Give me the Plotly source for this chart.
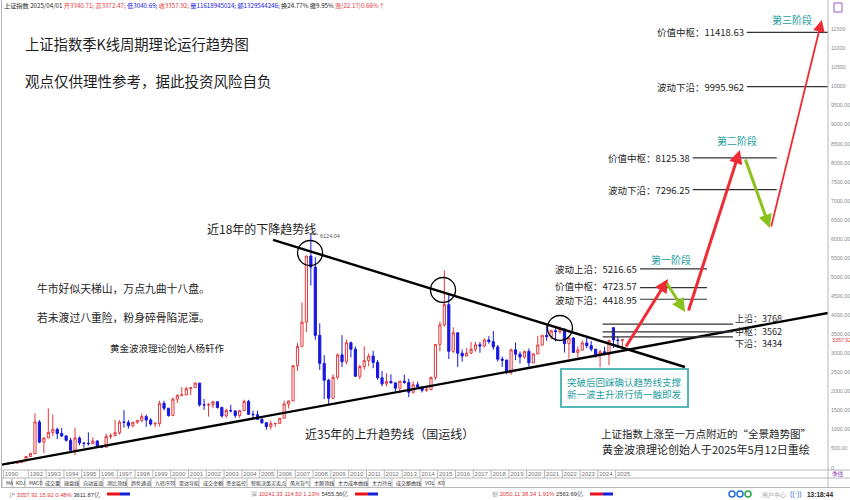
import plotly.graph_objects as go

# ---------------- Quarterly K-line data: Shanghai Composite Index ----------------
first_year, first_quarter = 1990, 4

opens = [
    96.05,
    127.61, 120.19, 137.56, 180.92,
    292.75, 370.0, 1200.0, 670.0,
    780.39, 925.0, 1007.0, 900.0,
    833.8, 720.0, 460.0, 780.0,
    647.87, 640.0, 630.0, 700.0,
    555.29, 540.0, 820.0, 840.0,
    917.02, 1200.0, 1190.0, 1100.0,
    1194.1, 1240.0, 1340.0, 1250.0,
    1146.7, 1160.0, 1690.0, 1560.0,
    1366.6, 1800.0, 1900.0, 1910.0,
    2073.5, 2100.0, 2218.0, 1650.0,
    1646.0, 1650.0, 1730.0, 1580.0,
    1357.7, 1500.0, 1490.0, 1370.0,
    1497.0, 1740.0, 1400.0, 1390.0,
    1266.5, 1180.0, 1080.0, 1155.0,
    1161.06, 1298.0, 1672.0, 1752.0,
    2675.47, 3183.0, 3820.0, 5552.0,
    5261.56, 3472.0, 2736.0, 2293.0,
    1820.81, 2373.0, 2959.0, 2779.0,
    3277.0, 3109.0, 2398.0, 2655.0,
    2808.0, 2928.0, 2762.0, 2359.0,
    2199.0, 2262.0, 2225.0, 2086.0,
    2269.0, 2237.0, 1979.0, 2175.0,
    2116.0, 2033.0, 2048.0, 2364.0,
    3235.0, 3748.0, 4277.0, 3053.0,
    3539.0, 3004.0, 2930.0, 3005.0,
    3104.0, 3223.0, 3192.0, 3349.0,
    3307.0, 3169.0, 2847.0, 2821.0,
    2494.0, 3091.0, 2979.0, 2905.0,
    3050.0, 2750.0, 2985.0, 3218.0,
    3473.0, 3441.0, 3591.0, 3568.0,
    3640.0, 3252.0, 3399.0, 3024.0,
    3089.0, 3273.0, 3202.0, 3110.0,
    2975.0, 3041.0, 2967.0, 3674.0,
    3347.0, 3340.71,
]
highs = [
    127.61,
    134.87, 137.56, 180.92, 292.75,
    390.0, 1429.01, 1250.0, 800.0,
    1558.95, 1392.0, 1050.0, 1044.0,
    850.0, 780.0, 1052.94, 820.0,
    660.0, 926.41, 800.0, 720.0,
    560.0, 900.0, 900.0, 1258.69,
    1250.0, 1510.18, 1250.0, 1200.0,
    1250.0, 1420.0, 1390.0, 1300.0,
    1200.0, 1756.18, 1756.0, 1560.0,
    1840.0, 1920.0, 2114.0, 2125.0,
    2114.0, 2245.44, 2230.0, 1800.0,
    1700.0, 1748.0, 1740.0, 1600.0,
    1550.0, 1649.0, 1500.0, 1500.0,
    1783.0, 1780.0, 1500.0, 1496.0,
    1328.0, 1200.0, 1230.0, 1180.0,
    1300.0, 1757.0, 1758.0, 2698.0,
    3274.0, 4335.0, 5555.0, 6124.04,
    5522.0, 3786.0, 2952.0, 2333.0,
    2450.0, 2999.0, 3478.01, 3361.0,
    3306.0, 3181.0, 2700.0, 3186.0,
    3001.0, 3067.0, 2827.0, 2536.0,
    2478.0, 2453.0, 2243.0, 2276.0,
    2444.0, 2334.0, 2270.0, 2260.0,
    2139.0, 2146.0, 2391.0, 3239.0,
    3835.0, 5178.19, 4572.0, 3684.0,
    3539.0, 3100.0, 3140.0, 3301.0,
    3301.0, 3296.0, 3392.0, 3450.0,
    3587.0, 3220.0, 2915.0, 2838.0,
    3129.0, 3288.0, 3047.0, 3069.0,
    3127.0, 3000.0, 3458.0, 3474.0,
    3731.0, 3624.0, 3723.0, 3708.0,
    3651.0, 3425.0, 3424.0, 3181.0,
    3340.0, 3419.0, 3322.0, 3110.0,
    3091.0, 3174.0, 3358.0, 3674.0,
    3439.0, 3372.47,
]
lows = [
    95.79,
    105.77, 104.96, 130.0, 180.92,
    292.0, 370.0, 640.0, 386.85,
    780.0, 830.0, 750.0, 800.0,
    680.0, 450.0, 325.89, 590.0,
    524.43, 580.0, 620.0, 555.29,
    512.83, 530.0, 750.0, 840.0,
    870.0, 1050.0, 1025.0, 1060.0,
    1150.0, 1200.0, 1070.0, 1100.0,
    1064.0, 1080.0, 1500.0, 1341.0,
    1361.0, 1700.0, 1870.0, 1900.0,
    1900.0, 2100.0, 1600.0, 1514.86,
    1339.0, 1560.0, 1550.0, 1311.0,
    1311.0, 1450.0, 1307.0, 1307.0,
    1490.0, 1390.0, 1300.0, 1259.0,
    1150.0, 998.23, 1000.0, 1067.0,
    1161.0, 1290.0, 1550.0, 1740.0,
    2541.0, 3180.0, 3560.0, 4778.0,
    3357.0, 2566.0, 1802.0, 1664.93,
    1814.0, 2320.0, 2639.0, 2712.0,
    2890.0, 2382.0, 2319.0, 2574.0,
    2661.0, 2610.0, 2307.0, 2134.0,
    2132.0, 2211.0, 2001.0, 1949.0,
    2201.0, 1849.0, 1940.0, 2101.0,
    1974.0, 1991.0, 2043.0, 2302.0,
    3049.0, 3700.0, 2850.0, 3011.0,
    2638.0, 2781.0, 2918.0, 2981.0,
    3044.0, 3016.0, 3161.0, 3254.0,
    3091.0, 2782.0, 2644.0, 2449.0,
    2440.0, 2824.0, 2733.0, 2858.0,
    2646.0, 2743.0, 2979.0, 3202.0,
    3328.0, 3367.0, 3312.0, 3516.0,
    3023.0, 2863.0, 3021.0, 2885.0,
    3063.0, 3132.0, 3053.0, 2882.0,
    2635.0, 2952.0, 2689.0, 3140.0,
    3140.0, 3040.69,
]
closes = [
    127.61,
    120.19, 137.56, 180.92, 292.75,
    370.0, 1200.0, 670.0, 780.39,
    925.0, 1007.0, 900.0, 833.8,
    720.0, 460.0, 780.0, 647.87,
    640.0, 630.0, 700.0, 555.29,
    540.0, 820.0, 840.0, 917.02,
    1200.0, 1190.0, 1100.0, 1194.1,
    1240.0, 1340.0, 1250.0, 1146.7,
    1160.0, 1690.0, 1560.0, 1366.6,
    1800.0, 1900.0, 1910.0, 2073.5,
    2100.0, 2218.0, 1650.0, 1646.0,
    1650.0, 1730.0, 1580.0, 1357.7,
    1500.0, 1490.0, 1370.0, 1497.0,
    1740.0, 1400.0, 1390.0, 1266.5,
    1180.0, 1080.0, 1155.0, 1161.06,
    1298.0, 1672.0, 1752.0, 2675.47,
    3183.0, 3820.0, 5552.0, 5261.56,
    3472.0, 2736.0, 2293.0, 1820.81,
    2373.0, 2959.0, 2779.0, 3277.0,
    3109.0, 2398.0, 2655.0, 2808.0,
    2928.0, 2762.0, 2359.0, 2199.0,
    2262.0, 2225.0, 2086.0, 2269.0,
    2237.0, 1979.0, 2175.0, 2116.0,
    2033.0, 2048.0, 2364.0, 3235.0,
    3748.0, 4277.0, 3053.0, 3539.0,
    3004.0, 2930.0, 3005.0, 3104.0,
    3223.0, 3192.0, 3349.0, 3307.0,
    3169.0, 2847.0, 2821.0, 2494.0,
    3091.0, 2979.0, 2905.0, 3050.0,
    2750.0, 2985.0, 3218.0, 3473.0,
    3441.0, 3591.0, 3568.0, 3640.0,
    3252.0, 3399.0, 3024.0, 3089.0,
    3273.0, 3202.0, 3110.0, 2975.0,
    3041.0, 2967.0, 3336.0, 3352.0,
    3336.0, 3357.92,
]

# x-axis year labels
tick_years = [1990.6] + list(range(1992, 2026))
tick_labels = ["1990"] + [str(y) for y in range(1992, 2026)]

# right axis ticks
y_ticks = list(range(0, 12000, 500))
last_close = 3357.92
peak_value = 6124.04
peak_year = 2007.875

# trend lines (year, index level)
up_trend_years = [1990.41, 2036.93]
up_trend_values = [71, 4058]
down_trend_years = [2005.75, 2028.89]
down_trend_values = [5976, 2642]

# circled touch points on the falling trend line
circle_years = [2007.83, 2015.30, 2021.87]
circle_values = [5632, 4662, 3665]

# projected target levels: name, value, start year, end year
level_names = ["波动上沿", "价值中枢", "波动下沿",
               "价值中枢", "波动下沿",
               "价值中枢", "波动下沿"]
level_values = [5216.65, 4723.57, 4418.95, 8125.38, 7296.25, 11418.63, 9995.962]
level_start = [2026.37, 2026.37, 2026.37, 2029.33, 2029.33, 2032.37, 2032.37]
level_end = [2030.13, 2030.13, 2030.13, 2034.05, 2034.05, 2037.5, 2037.5]

# current consolidation band
band_names = ["上沿", "中枢", "下沿"]
band_values = [3768, 3562, 3434]
band_start, band_end = 2024.27, 2031.59

# projected wave path: tails and heads of each arrow
wave_tail_years = [2025.53, 2027.83, 2029.07, 2032.26, 2033.72]
wave_tail_values = [3140, 4871, 4085, 8124, 6288]
wave_head_years = [2027.94, 2028.90, 2031.98, 2033.66, 2036.58]
wave_head_values = [4950, 4085, 8334, 6288, 11744]
wave_kinds = ["up", "down", "up", "down", "up_thin"]

stage_names = ["第一阶段", "第二阶段", "第三阶段"]
stage_years = [2028.11, 2031.81, 2034.89]
stage_values = [5449, 8596, 11765]

# ---------------- styling ----------------
RED = "#e4393c"
BLUE = "#1717e0"
TEAL = "#1f9e9e"
GREEN = "#8cc21c"
ARROW_RED = "#ef2b36"
INK = "#1e1e1e"
CJK = "Noto Sans CJK SC"
NUM = "Liberation Sans"

W, H = 850, 500
PL, PR, PT, PB = 2, 828, 11, 470


def px(x):
    return (x - PL) / (PR - PL)


def py(y):
    return (PB - y) / (PB - PT)


# x position of every quarterly bar
bar_x = []
yr, qt = first_year, first_quarter
for _ in opens:
    bar_x.append(yr + (qt - 1) / 4 + 0.125)
    qt += 1
    if qt > 4:
        qt, yr = 1, yr + 1

fig = go.Figure()

fig.add_trace(go.Candlestick(
    x=bar_x, open=opens, high=highs, low=lows, close=closes,
    increasing=dict(line=dict(color=RED, width=1), fillcolor="#ffffff"),
    decreasing=dict(line=dict(color=BLUE, width=1), fillcolor=BLUE),
    whiskerwidth=0, showlegend=False, hoverinfo="skip",
))

# trend lines
fig.add_trace(go.Scatter(x=up_trend_years, y=up_trend_values, mode="lines",
                         line=dict(color="#000000", width=2.4), showlegend=False,
                         hoverinfo="skip"))
fig.add_trace(go.Scatter(x=down_trend_years, y=down_trend_values, mode="lines",
                         line=dict(color="#000000", width=2.4), showlegend=False,
                         hoverinfo="skip"))

# target level lines
for v, x0, x1 in zip(level_values, level_start, level_end):
    fig.add_trace(go.Scatter(x=[x0, x1], y=[v, v], mode="lines",
                             line=dict(color="#333333", width=1.2),
                             showlegend=False, hoverinfo="skip"))
for v in band_values:
    fig.add_trace(go.Scatter(x=[band_start, band_end], y=[v, v], mode="lines",
                             line=dict(color="#333333", width=1.2),
                             showlegend=False, hoverinfo="skip"))

annotations = []
shapes = []

# level labels
level_shift = [0, 2, -1, 0, 0, 0, 0]
for name, v, x0, s in zip(level_names, level_values, level_start, level_shift):
    annotations.append(dict(x=x0, y=v, xref="x", yref="y", xanchor="right",
                            yanchor="middle", showarrow=False, xshift=-1, yshift=s,
                            text=f"{name}：{v}",
                            font=dict(family=CJK, size=9.5, color=INK)))
band_shift = [6, 0, -7]
for name, v, s in zip(band_names, band_values, band_shift):
    annotations.append(dict(x=band_end, y=v, xref="x", yref="y", xanchor="left",
                            yanchor="middle", showarrow=False, xshift=0, yshift=s,
                            text=f"{name}：{v}",
                            font=dict(family=CJK, size=9, color=INK)))

# stage labels
for name, x, v in zip(stage_names, stage_years, stage_values):
    annotations.append(dict(x=x, y=v, xref="x", yref="y", showarrow=False,
                            text=name, font=dict(family=CJK, size=10, color=TEAL)))

# projected wave arrows
for tx, tv, hx, hv, kind in zip(wave_tail_years, wave_tail_values,
                                wave_head_years, wave_head_values, wave_kinds):
    color = GREEN if kind == "down" else ARROW_RED
    width = 1.8 if kind == "up_thin" else 3
    annotations.append(dict(x=hx, y=hv, ax=tx, ay=tv, xref="x", yref="y",
                            axref="x", ayref="y", text="", showarrow=True,
                            arrowhead=2, arrowsize=0.9 if width > 2 else 1.3,
                            arrowwidth=width, arrowcolor=color, standoff=0))

# touch-point circles
for cx, cv in zip(circle_years, circle_values):
    shapes.append(dict(type="circle", xref="x", yref="y", xsizemode="pixel",
                       ysizemode="pixel", xanchor=cx, yanchor=cv,
                       x0=-12.5, x1=12.5, y0=-12.5, y1=12.5,
                       line=dict(color="#000000", width=1.3)))

# peak marker
shapes.append(dict(type="line", xref="x", yref="y", x0=peak_year, x1=peak_year + 0.4,
                   y0=peak_value, y1=peak_value, line=dict(color="#666666", width=0.8)))
annotations.append(dict(x=peak_year, y=peak_value, xref="x", yref="y",
                        xanchor="left", yanchor="middle", showarrow=False,
                        xshift=7, yshift=-2, text=f"{peak_value:.2f}",
                        font=dict(family=NUM, size=5.5, color="#555555")))

# callout box
annotations.append(dict(x=2025.47, y=2088, xref="x", yref="y", showarrow=False,
                        text="突破后回踩确认趋势线支撑<br>新一波主升浪行情一触即发",
                        font=dict(family=CJK, size=9.5, color=TEAL),
                        bordercolor="#56b7b7", borderwidth=2, borderpad=5,
                        bgcolor="#ffffff", align="left"))


def free_text(text, x, y, size, color=INK, anchor="left", family=CJK):
    annotations.append(dict(x=px(x), y=py(y), xref="paper", yref="paper",
                            xanchor=anchor, yanchor="middle", showarrow=False,
                            text=text, font=dict(family=family, size=size, color=color)))


free_text("上证指数季K线周期理论运行趋势图", 23, 43, 14.3)
free_text("观点仅供理性参考，据此投资风险自负", 23, 80.5, 14.5)
free_text("近18年的下降趋势线", 205, 228, 12)
free_text("牛市好似天梯山，万点九曲十八盘。", 35, 288, 10.8)
free_text("若未渡过八重险，粉身碎骨陷泥潭。", 35, 317, 10.8)
free_text("黄金波浪理论创始人杨轩作", 108, 348, 9.5)
free_text("近35年的上升趋势线（国运线）", 303, 433, 12)
free_text("上证指数上涨至一万点附近的“全景趋势图”", 599, 433, 10.5)
free_text("黄金波浪理论创始人于2025年5月12日重绘", 600, 449, 11)

# quote header line
header = ("上证指数 2025/04/01 "
          f"<span style='color:{RED}'>开3340.71;</span> "
          f"<span style='color:{RED}'>高3372.47;</span> "
          f"<span style='color:{BLUE}'>低3040.69;</span> "
          f"<span style='color:{RED}'>收3357.92;</span> "
          f"<span style='color:{BLUE}'>量11618945024;</span> "
          f"<span style='color:{BLUE}'>额1329544246;</span> "
          "换24.77% 振9.95% "
          f"<span style='color:{RED}'>涨(22.17)0.66%↑</span>")
free_text(header, 2, 5, 6.2)

# last close tag on the price axis
annotations.append(dict(x=1, y=last_close, xref="paper", yref="y", xanchor="left",
                        yanchor="middle", showarrow=False, xshift=2,
                        text=f"{last_close:.2f}",
                        font=dict(family=NUM, size=5.3, color=RED)))

# frame lines
gray = "#b8b8b8"
shapes += [
    dict(type="line", xref="paper", yref="paper", x0=px(1.5), x1=px(1.5),
         y0=py(0), y1=py(488), line=dict(color=gray, width=1)),
    dict(type="line", xref="paper", yref="paper", x0=px(828), x1=px(828),
         y0=py(0), y1=py(488), line=dict(color=gray, width=1)),
    dict(type="line", xref="paper", yref="paper", x0=px(1), x1=px(850),
         y0=py(470), y1=py(470), line=dict(color=gray, width=1)),
    dict(type="line", xref="paper", yref="paper", x0=px(1), x1=px(850),
         y0=py(478), y1=py(478), line=dict(color=gray, width=1)),
    dict(type="line", xref="paper", yref="paper", x0=px(1), x1=px(850),
         y0=py(487.5), y1=py(487.5), line=dict(color=gray, width=1)),
    dict(type="rect", xref="paper", yref="paper", x0=px(834), x1=px(842),
         y0=py(12), y1=py(3), line=dict(color="#9a5cc8", width=1)),
]
# year separators in the date row
for ty in tick_years:
    shapes.append(dict(type="line", xref="x", yref="paper", x0=ty, x1=ty,
                       y0=py(470), y1=py(478), line=dict(color=gray, width=1)))

free_text("季线", 838, 474, 5.5, color="#8a3fc0", anchor="center")

# indicator tabs, laid out left to right
tabs = ["MA", "KDJ", "MACD", "成交量", "操盘线", "自动波浪", "测比顶线", "趋势通道",
        "九转序列", "雷达导航", "成交金额", "资金监控", "智能决策买卖点", "风光背气",
        "主题顶线", "主力成本曲线", "主力持仓", "成交额曲线", "VOL", "KD"]
tab_x = 2.0
for t in tabs:
    w = sum(5.0 if ord(ch) > 127 else 3.0 for ch in t) + 4
    free_text(t, tab_x + 1.5, 482.8, 5, color="#333333")
    shapes.append(dict(type="line", xref="paper", yref="paper", x0=px(tab_x), x1=px(tab_x),
                       y0=py(478), y1=py(487.5), line=dict(color=gray, width=1)))
    tab_x += w
shapes.append(dict(type="line", xref="paper", yref="paper", x0=px(tab_x), x1=px(tab_x),
                   y0=py(478), y1=py(487.5), line=dict(color=gray, width=1)))

# market summary status row
status = [
    ("沪", "3357.92 15.92 0.48%", "3611.87亿", 7, 107),
    ("深", "10241.33 114.50 1.13%", "5455.56亿", 249, 355),
    ("创", "2050.11 38.34 1.91%", "2563.69亿", 490, 590),
]
for mk, nums, amt, lx, bx in status:
    free_text(f"<span style='color:#888'>{mk}</span> <span style='color:{RED}'>{nums}</span> "
              f"<span style='color:#333'>{amt}</span>", lx, 494, 5.8, family=NUM)
    shapes.append(dict(type="rect", xref="paper", yref="paper", x0=px(bx), x1=px(bx + 13),
                       y0=py(495.5), y1=py(492.5), line=dict(width=0), fillcolor="#e8101a"))
    shapes.append(dict(type="rect", xref="paper", yref="paper", x0=px(bx + 13), x1=px(bx + 23),
                       y0=py(495.5), y1=py(492.5), line=dict(width=0), fillcolor="#1020d8"))
for i, c in enumerate(["#2a6fd6", "#2a6fd6", "#2aa84a"]):
    shapes.append(dict(type="circle", xref="paper", yref="paper",
                       x0=px(729 + i * 8), x1=px(735 + i * 8), y0=py(497), y1=py(491),
                       line=dict(color=c, width=1.5)))
free_text("用户中心", 760, 494, 6, color="#aaaaaa")
free_text("((·))", 788, 494, 7, color="#2a6fd6", family=NUM)
free_text("<b>13:18:44</b>", 805, 494, 6.5, color="#222222", family=NUM)

y_text = ["0" if v == 0 else (f"{v}" if v >= 10000 else f"{v:.2f}") for v in y_ticks]

fig.update_layout(
    width=W, height=H, template="none",
    margin=dict(l=PL, r=W - PR, t=PT, b=H - PB, pad=0),
    paper_bgcolor="#ffffff", plot_bgcolor="#ffffff",
    showlegend=False,
    annotations=annotations, shapes=shapes,
    xaxis=dict(range=[1990.522, 2036.93], showgrid=False, zeroline=False,
               showline=False, rangeslider=dict(visible=False),
               tickvals=tick_years, ticktext=tick_labels, ticks="",
               tickfont=dict(family=NUM, size=6, color="#777777"),
               ticklabelshift=8, ticklabelstandoff=-1, automargin=False,
               fixedrange=True),
    yaxis=dict(range=[-60.3, 11980], side="right", showgrid=False, zeroline=False,
               showline=False, tickvals=y_ticks, ticktext=y_text, ticks="",
               tickfont=dict(family=NUM, size=5.3, color="#8a8a8a"),
               ticklabelstandoff=2, automargin=False, fixedrange=True),
)

fig.write_html("out.html")
